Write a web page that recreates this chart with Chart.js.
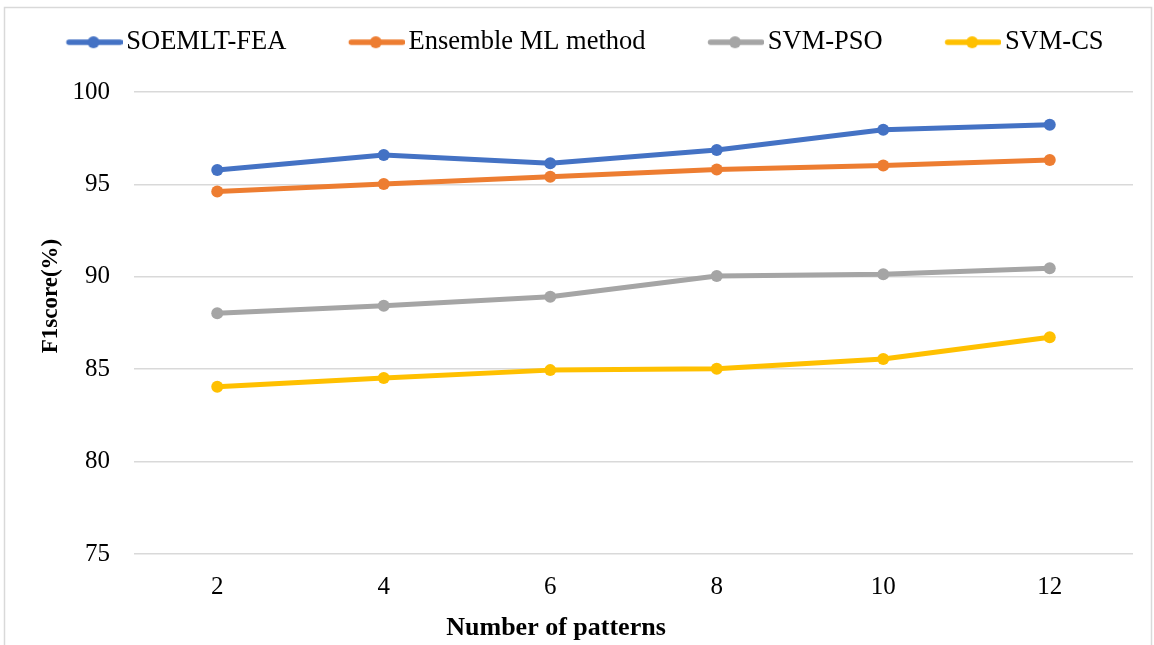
<!DOCTYPE html>
<html><head><meta charset="utf-8">
<script src="https://cdn.jsdelivr.net/npm/chart.js@4.4.1/dist/chart.umd.min.js"></script>
<style>html,body{margin:0;padding:0;background:#fff}#wrap{width:1154px;height:645px;position:relative}</style>
</head><body><div id="wrap"><canvas id="c"></canvas></div>
<script>
const categories = ['2', '4', '6', '8', '10', '12'];
const seriesNames = ['SOEMLT-FEA', 'Ensemble ML method', 'SVM-PSO', 'SVM-CS'];
const soemltFea = [95.78, 96.59, 96.14, 96.86, 97.96, 98.23];
const ensembleMl = [94.62, 95.02, 95.41, 95.80, 96.02, 96.32];
const svmPso = [88.03, 88.43, 88.92, 90.04, 90.14, 90.46];
const svmCs = [84.05, 84.52, 84.95, 85.02, 85.55, 86.73];
const yMin = 75, yMax = 100, yStep = 5;
const xTitle = 'Number of patterns';
const yTitle = 'F1score(%)';
const colors = ['#4472C4', '#ED7D31', '#A5A5A5', '#FFC000'];
const FONT = '"Liberation Serif", "Times New Roman", serif';

function legendIcon(color) {
  const c = document.createElement('canvas');
  c.width = 128; c.height = 14;
  const g = c.getContext('2d');
  g.strokeStyle = color; g.lineWidth = 5.5; g.lineCap = 'round';
  g.beginPath(); g.moveTo(74.5, 7); g.lineTo(125.5, 7); g.stroke();
  g.fillStyle = color;
  g.beginPath(); g.arc(99, 7, 6, 0, Math.PI * 2); g.fill();
  return c;
}
const icons = colors.map(legendIcon);

const legendSpacer = {
  id: 'legendSpacer',
  beforeInit(chart) {
    const orig = chart.legend.fit;
    chart.legend.fit = function () { orig.call(this); this.height = 63; };
  }
};
const frame = {
  id: 'frame',
  beforeDraw(chart) {
    const ctx = chart.ctx;
    ctx.save();
    ctx.strokeStyle = '#d9d9d9'; ctx.lineWidth = 1.5;
    ctx.strokeRect(4.5, 7.5, 1147, 700);
    ctx.restore();
  }
};
const axisTitles = {
  id: 'axisTitles',
  afterDraw(chart) {
    const ctx = chart.ctx;
    ctx.save();
    ctx.fillStyle = '#000';
    ctx.textAlign = 'center';
    ctx.textBaseline = 'alphabetic';
    ctx.font = 'bold 26px ' + FONT;
    ctx.fillText(xTitle, 556, 635);
    ctx.translate(57, 296);
    ctx.rotate(-Math.PI / 2);
    ctx.font = 'bold 23px ' + FONT;
    ctx.fillText(yTitle, 0, 0);
    ctx.restore();
  }
};

const seriesData = [soemltFea, ensembleMl, svmPso, svmCs];
new Chart(document.getElementById('c'), {
  type: 'line',
  data: {
    labels: categories,
    datasets: seriesData.map((d, i) => ({
      label: seriesNames[i],
      data: d,
      borderColor: colors[i],
      backgroundColor: colors[i],
      pointBackgroundColor: colors[i],
      pointBorderColor: colors[i],
      pointBorderWidth: 0,
      pointRadius: 6,
      borderWidth: 5,
      borderJoinStyle: 'round',
      borderCapStyle: 'round',
      tension: 0,
      fill: false
    }))
  },
  options: {
    responsive: true,
    maintainAspectRatio: false,
    animation: false,
    devicePixelRatio: 1,
    layout: { padding: { left: 4, right: 21, top: 29, bottom: 0 } },
    plugins: {
      tooltip: { enabled: false },
      legend: {
        position: 'top',
        align: 'start',
        labels: {
          usePointStyle: true,
          pointStyleWidth: 109,
          padding: 0,
          color: '#000',
          font: { family: FONT, size: 26.5 },
          generateLabels(chart) {
            const items = Chart.defaults.plugins.legend.labels.generateLabels(chart);
            items.forEach((it, i) => { it.pointStyle = icons[i]; });
            return items;
          }
        }
      }
    },
    scales: {
      x: {
        type: 'category',
        offset: true,
        grid: { display: false, drawTicks: false },
        border: { display: false },
        ticks: { color: '#000', font: { family: FONT, size: 25 }, padding: 18, maxRotation: 0 },
        afterFit(s) { s.height = 91; }
      },
      y: {
        min: yMin, max: yMax,
        ticks: { stepSize: yStep, color: '#000', font: { family: FONT, size: 25 }, padding: 24 },
        grid: { color: '#d9d9d9', lineWidth: 1.5, drawTicks: false },
        border: { display: false },
        afterFit(s) { s.width = 130; }
      }
    }
  },
  plugins: [legendSpacer, frame, axisTitles]
});
</script>
</body></html>
